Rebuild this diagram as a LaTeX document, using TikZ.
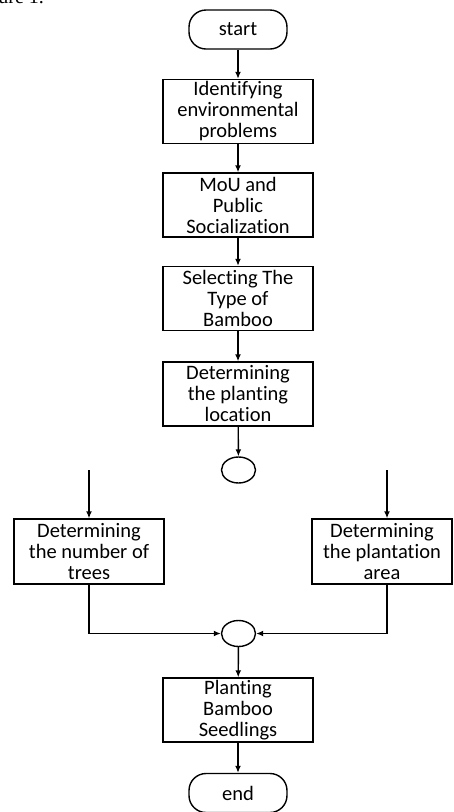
\documentclass[tikz,border=0pt]{standalone}
\usepackage{fontspec}
\setmainfont{Carlito}[Ligatures=NoCommon]
\newfontfamily\capfont{Liberation Serif}
\usetikzlibrary{shapes.geometric,arrows.meta}
\begin{document}
\begin{tikzpicture}[x=1pt, y=-1pt, >={Latex[length=7pt,width=6pt]}, line width=1.4pt,
  box/.style={draw, minimum width=150pt, minimum height=64pt, align=center, inner sep=0pt, font=\fontsize{20.5}{21}\selectfont},
  term/.style={draw, rounded corners=17pt, minimum width=98pt, minimum height=39pt, font=\fontsize{20.5}{21}\selectfont},
  joint/.style={draw, ellipse, minimum width=34pt, minimum height=26pt, inner sep=0pt}]
\useasboundingbox (0,0) rectangle (453,812);
\node[anchor=base east, font=\capfont\fontsize{20}{22}\selectfont] (cap) at (48,3) {Figure 1.};
\node[term] (start) at (238,29.5) {start};
\node[box] (idp) at (238,111.5) {Identifying\\environmental\\problems};
\node[box] (mou) at (238,205) {MoU and\\Public\\Socialization};
\node[box] (sel) at (238,298.5) {Selecting The\\Type of\\Bamboo};
\node[box] (loc) at (238,394) {Determining\\the planting\\location};
\node[joint] (c1) at (238.5,470) {};
\node[box, minimum height=65pt] (num) at (89,551.5) {Determining\\the number of\\trees};
\node[box, minimum width=140pt, minimum height=65pt] (area) at (382,551.5) {Determining\\the plantation\\area};
\node[joint] (c2) at (238.5,633.5) {};
\node[box] (plant) at (238,710) {Planting\\Bamboo\\Seedlings};
\node[term] (end) at (238,793) {end};
\coordinate (ltop) at (89,470);
\coordinate (rtop) at (387,470);
\draw[->] (start) -- (idp);
\draw[->] (idp) -- (mou);
\draw[->] (mou) -- (sel);
\draw[->] (sel) -- (loc);
\draw[->] (loc) -- (c1);
\draw[->] (ltop) -- (num.north);
\draw[->] (rtop) -- (rtop |- area.north);
\draw[->] (num.south) |- (c2.west);
\draw[->] (rtop |- area.south) |- (c2.east);
\draw[->] (c2) -- (plant);
\draw[->] (plant) -- (end);
\end{tikzpicture}
\end{document}
